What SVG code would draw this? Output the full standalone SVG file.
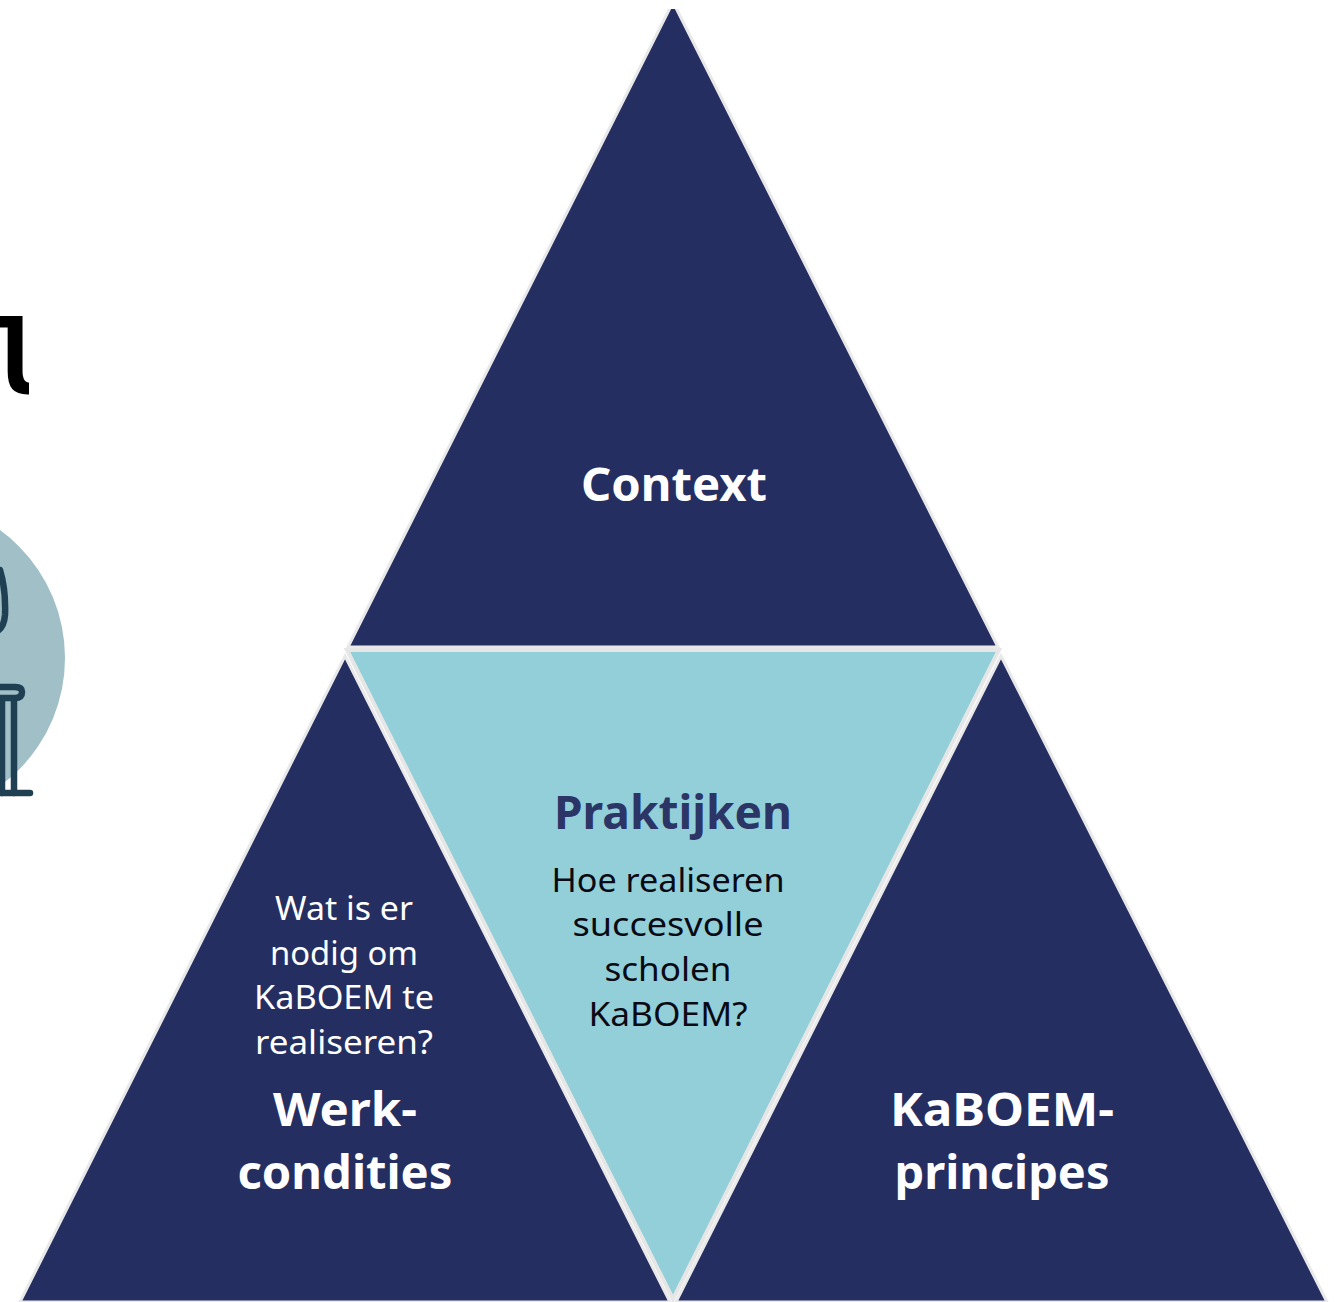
<svg xmlns="http://www.w3.org/2000/svg" width="1337" height="1302" viewBox="0 0 1337 1302">
<defs><clipPath id="edge"><rect x="0" y="300" width="29" height="110"/></clipPath></defs>
<style>
.navy{fill:#252e61;stroke:#e9e9e9;stroke-width:3;stroke-linejoin:miter}
.teal{fill:#93cfd8;stroke:#e6e6e6;stroke-width:4}
text{font-family:"Noto Sans","Open Sans","Liberation Sans",sans-serif;text-anchor:middle}
.h{font-weight:700;font-size:46px;fill:#fff}
.b{font-size:33.5px}
.w{fill:#fff}
.k{fill:#0a0a14}
.ln{fill:none;stroke:#1f3f52;stroke-width:6.5;stroke-linecap:round}
</style>
<rect width="1337" height="1302" fill="#fff"/>
<g id="title-fragment" clip-path="url(#edge)"><text x="-12" y="395" style="font-size:104px;font-weight:700;text-anchor:start;fill:#000;font-family:'DejaVu Sans Mono',monospace">l</text></g>
<g id="illustration">
<circle cx="-93.5" cy="658" r="158.5" fill="#a0bfc6"/>
<path class="ln" d="M0 570Q6 590 5 615Q4 628 -4 632"/>
<path class="ln" d="M-4 687H15Q22 687 22 692Q22 698 15 698H-4"/>
<path class="ln" d="M2 700V793M14 700V793"/>
<path class="ln" d="M-4 793H30"/>
</g>
<g id="node-context"><polygon class="navy" points="673,2 998,647 348,647"/><rect x="640" y="0" width="70" height="9" fill="#fff"/><text class="h" x="674" y="501" textLength="186" lengthAdjust="spacingAndGlyphs">Context</text></g>
<g id="node-werkcondities"><polygon class="navy" points="345,656 670,1302 20,1302"/>
<text class="b w" x="344" y="920" textLength="138" lengthAdjust="spacingAndGlyphs">Wat is er</text><text class="b w" x="344" y="965" textLength="148" lengthAdjust="spacingAndGlyphs">nodig om</text><text class="b w" x="344" y="1009" textLength="180" lengthAdjust="spacingAndGlyphs">KaBOEM te</text><text class="b w" x="344" y="1054" textLength="178" lengthAdjust="spacingAndGlyphs">realiseren?</text>
<text class="h" x="345" y="1126" textLength="144" lengthAdjust="spacingAndGlyphs">Werk-</text><text class="h" x="345" y="1189" textLength="215" lengthAdjust="spacingAndGlyphs">condities</text></g>
<g id="node-principes"><polygon class="navy" points="1001,656 1327,1302 676,1302"/>
<text class="h" x="1002" y="1126" textLength="224" lengthAdjust="spacingAndGlyphs">KaBOEM-</text><text class="h" x="1002" y="1189" textLength="215" lengthAdjust="spacingAndGlyphs">principes</text></g>
<g id="node-praktijken"><polygon class="teal" points="347,650 999,650 673,1299"/>
<text class="h" x="673" y="829" style="fill:#2b3566" textLength="238" lengthAdjust="spacingAndGlyphs">Praktijken</text>
<text class="b k" x="668" y="892" textLength="233" lengthAdjust="spacingAndGlyphs">Hoe realiseren</text><text class="b k" x="668" y="936" textLength="191" lengthAdjust="spacingAndGlyphs">succesvolle</text><text class="b k" x="668" y="981" textLength="127" lengthAdjust="spacingAndGlyphs">scholen</text><text class="b k" x="668" y="1026" textLength="159" lengthAdjust="spacingAndGlyphs">KaBOEM?</text></g>
<g id="connectors"></g>
</svg>
